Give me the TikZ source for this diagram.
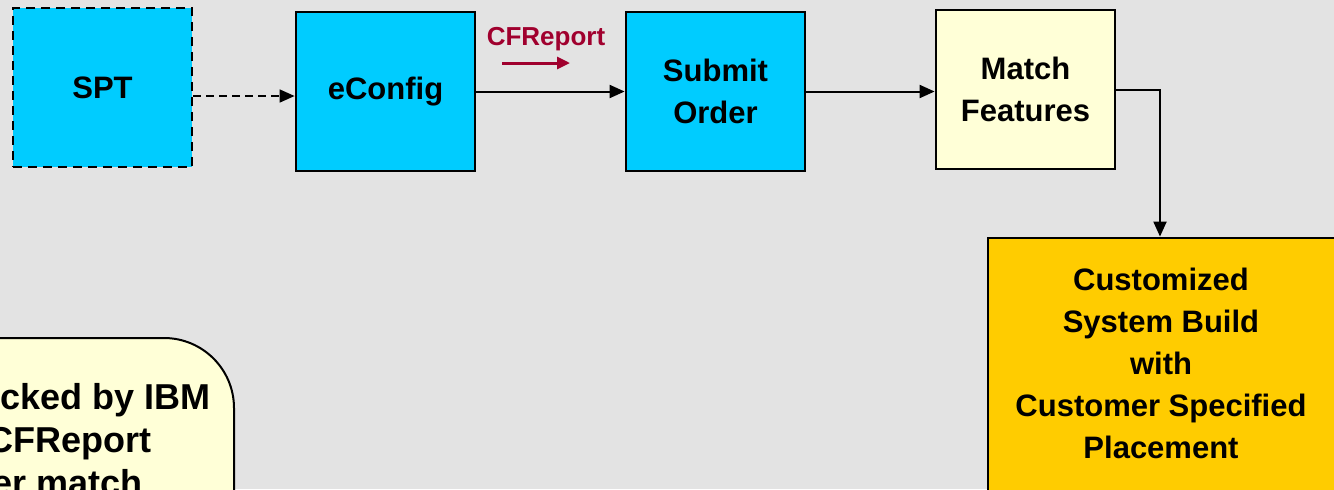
\documentclass[tikz,border=0pt]{standalone}
\usepackage{fontspec}
\setmainfont{Liberation Sans}
\usetikzlibrary{arrows.meta}
\definecolor{bg}{HTML}{E3E3E3}
\definecolor{cyanbox}{HTML}{00CCFF}
\definecolor{paleyellow}{HTML}{FFFFD7}
\definecolor{gold}{HTML}{FFCC00}
\definecolor{maroon}{HTML}{A0002E}
\begin{document}
\begin{tikzpicture}[x=0.5pt,y=-0.5pt,
  box/.style={draw=black, line width=1.4pt, minimum width=89.5pt, minimum height=79.5pt,
    inner sep=0pt, align=center, font=\fontsize{15.5}{21}\selectfont\bfseries},
  boxtext/.style={align=center, inner sep=0pt, font=\fontsize{15.5}{21}\selectfont\bfseries},
  conn/.style={draw=black, line width=1pt, -{Triangle[length=7.5pt,width=6.5pt]}},
  notetext/.style={inner sep=0pt, font=\fontsize{18}{21.5}\selectfont\bfseries},
]
\useasboundingbox (0,0) rectangle (1334,489);
\fill[bg] (0,0) rectangle (1334,489);

% boxes
\node[box, fill=cyanbox, dash pattern=on 4.5pt off 3pt] (spt) at (102.5,87.5) {SPT};
\node[box, fill=cyanbox] (econfig) at (385.5,91.5) {eConfig};
\node[box, fill=cyanbox] (submit) at (715.5,91.5) {Submit\\Order};
\node[box, fill=paleyellow] (match) at (1025.5,89.5) {Match\\Features};
\node[draw=black, line width=1.4pt, fill=gold, minimum width=180pt, minimum height=131pt, inner sep=0pt] (custom) at (1168,369) {};
\node[boxtext] (customtext) at (1161,363) {Customized\\System Build\\with\\Customer Specified\\Placement};

% connectors
\coordinate (c1) at ([yshift=-4.25pt]spt.east);
\draw[conn, dash pattern=on 4pt off 2.5pt, line width=0.8pt] (c1) -- (c1 -| econfig.west);
\draw[conn] (econfig.east) -- (submit.west);
\draw[conn] (submit.east) -- (submit.east -| match.west);
\coordinate (cdown) at (1160,0);
\draw[conn] (match.east) -| (cdown |- custom.north);

% CFReport label
\node[text=maroon, inner sep=0pt, font=\fontsize{13}{15}\selectfont\bfseries] (cflabel) at (546,39) {CFReport};
\coordinate (ra) at (502,63);
\coordinate (rb) at (570,63);
\draw[maroon, line width=1.5pt, -{Triangle[length=6.5pt,width=6pt]}] (ra) -- (rb);

% note box
\draw[fill=paleyellow, draw=black, line width=1pt, rounded corners=35pt] (-80,338) rectangle (234,600);
\node[notetext, anchor=base east] (n1) at (211,409) {cked by IBM};
\node[notetext, anchor=base east] (n2) at (152,452) {CFReport};
\node[notetext, anchor=base east] (n3) at (143,495) {er match};
\end{tikzpicture}
\end{document}
